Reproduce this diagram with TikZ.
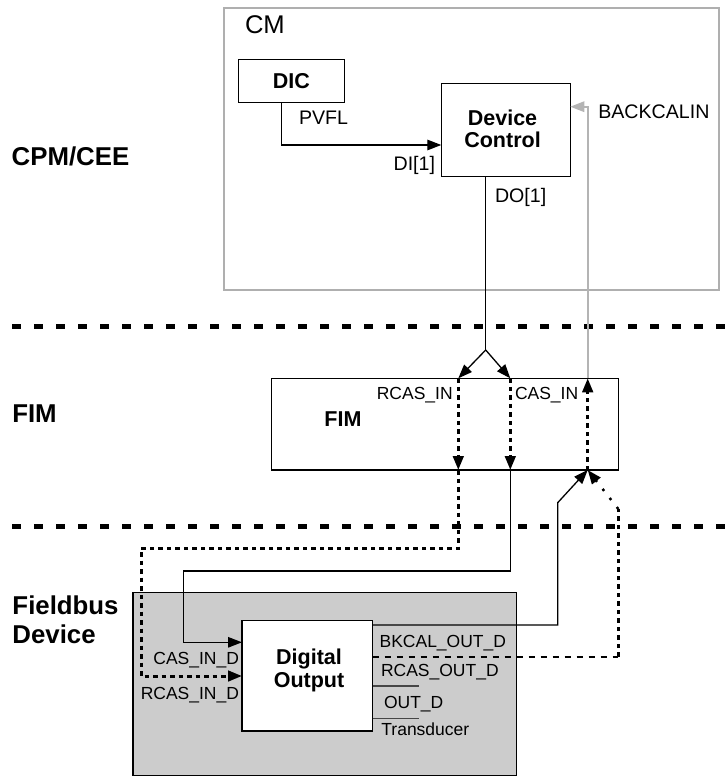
\documentclass[tikz,border=0pt]{standalone}
\usepackage{fontspec}
\setmainfont{Liberation Sans}
\usetikzlibrary{arrows.meta}
\definecolor{cmgray}{RGB}{175,175,175}
\definecolor{bkgray}{RGB}{180,180,180}
\definecolor{fdfill}{RGB}{204,204,204}
\definecolor{dline}{RGB}{70,70,70}
\tikzset{
 boxst/.style={draw=black, line width=1.3pt, inner sep=0pt, outer sep=0pt, rectangle},
 lbl/.style={inner sep=0pt, outer sep=0pt, font=\fontsize{19.6}{23}\selectfont},
 sml/.style={inner sep=0pt, outer sep=0pt, font=\fontsize{17.5}{21}\selectfont},
 bin/.style={inner sep=0pt, outer sep=0pt, font=\bfseries\fontsize{21.5}{22.5}\selectfont, align=center},
 side/.style={inner sep=0pt, outer sep=0pt, font=\bfseries\fontsize{25.8}{29.3}\selectfont, align=left},
 tip/.style={-{Triangle[length=14pt,width=10.5pt]}},
 conn/.style={line width=1.3pt, draw=black},
 dots/.style={line width=3pt, dash pattern=on 4.5pt off 4pt},
 thindash/.style={line width=1.8pt, dash pattern=on 6pt off 6pt},
 finedots/.style={line width=2.5pt, dash pattern=on 2.5pt off 9pt},
 sepline/.style={line width=4.5pt, dash pattern=on 9pt off 13pt},
}
\begin{document}
\begin{tikzpicture}[x=1pt,y=-1pt]
\useasboundingbox (0,0) rectangle (725,783);
% boxes
\node[boxst, draw=cmgray, line width=1.6pt, minimum width=495pt, minimum height=281.7pt] (cm) at (471.5,149.15) {};
\node[lbl, font=\fontsize{25.6}{30}\selectfont, anchor=base west] (cmt) at (245,33.3) {CM};
\node[boxst, bin, minimum width=106pt, minimum height=43.4pt] (dic) at (291.3,81) {DIC};
\node[boxst, minimum width=129pt, minimum height=93.4pt] (dc) at (505.8,130) {};
\node[bin, anchor=north] (dct) at (502.5,109.7) {Device\\Control};
\node[boxst, minimum width=346.6pt, minimum height=91.7pt] (fim) at (445,424.15) {};
\node[bin, anchor=base] (fimt) at (343,426) {FIM};
\node[boxst, fill=fdfill, minimum width=383.9pt, minimum height=183.2pt] (fd) at (324.85,683.9) {};
\node[boxst, fill=white, minimum width=130.5pt, minimum height=110.3pt] (do) at (307.25,675.85) {};
\node[bin, anchor=north] (dot) at (309,649.3) {Digital\\Output};
% separators
\coordinate (s1a) at (12,326.7); \coordinate (s1b) at (730,326.7);
\coordinate (s2a) at (12,526.5); \coordinate (s2b) at (730,526.5);
\draw[sepline] (s1a) -- (s1b);
\draw[sepline] (s2a) -- (s2b);
% upper connectors
\coordinate (pv) at (281.7,145);
\draw[conn,tip] (dic.south -| pv) -- (pv) -- (dc.west |- pv);
\coordinate (sp) at (485.7,350);
\draw[conn] (dc.south -| sp) -- (sp);
\coordinate (xr) at (458.3,0);
\coordinate (xc) at (510.3,0);
\coordinate (xb) at (587.7,0);
\draw[conn,tip] (sp) -- (fim.north -| xr);
\draw[conn,tip] (sp) -- (fim.north -| xc);
\draw[dots,tip] (fim.north -| xr) -- (fim.south -| xr);
\draw[dots,tip] (fim.north -| xc) -- (fim.south -| xc);
\draw[dots,tip] (fim.south -| xb) -- (fim.north -| xb);
\coordinate (bk) at (587.7,106.7);
\draw[conn, draw=bkgray, line width=1.8pt, tip] (fim.north -| xb) -- (bk) -- (dc.east |- bk);
% lower connectors
\coordinate (r1) at (458.3,548.3);
\coordinate (r2) at (141,548.3);
\coordinate (r3) at (141,676);
\draw[dots,tip] (fim.south -| xr) -- (r1) -- (r2) -- (r3) -- (do.west |- r3);
\coordinate (c1) at (510.3,571);
\coordinate (c2) at (183.3,571);
\coordinate (c3) at (183.3,642.3);
\draw[conn,tip] (fim.south -| xc) -- (c1) -- (c2) -- (c3) -- (do.west |- c3);
\coordinate (b1) at (557.7,625);
\coordinate (b2) at (557.7,502.7);
\draw[conn,tip] (do.east |- b1) -- (b1) -- (b2) -- (fim.south -| xb);
\coordinate (o1) at (618.3,656.7);
\coordinate (o2) at (618.3,509);
\draw[thindash] (do.east |- o1) -- (o1);
\draw[dots] (o1) -- (o2);
\draw[finedots,tip] (o2) -- (fim.south -| xb);
\coordinate (t1) at (419,686);
\coordinate (t2) at (419,718.3);
\draw[conn,draw=dline] (do.east |- t1) -- (t1);
\draw[conn,draw=dline] (do.east |- t2) -- (t2);
% labels
\node[lbl,anchor=base west] (pvfl) at (299,125) {PVFL};
\node[lbl,anchor=base east] (di) at (435,170.5) {DI[1]};
\node[lbl,anchor=base west] (do1) at (495,202.5) {DO[1]};
\node[lbl,anchor=base west] (bkc) at (598.3,118.3) {BACKCALIN};
\node[sml,anchor=base east] (rin) at (452.7,399.5) {RCAS\_IN};
\node[sml,anchor=base west] (cin) at (515,399.5) {CAS\_IN};
\node[sml,anchor=base east] (cind) at (239,664.2) {CAS\_IN\_D};
\node[sml,anchor=base east] (rind) at (239,699.8) {RCAS\_IN\_D};
\node[sml,anchor=base west] (bko) at (379.6,647.5) {BKCAL\_OUT\_D};
\node[sml,anchor=base west] (rco) at (381,676.5) {RCAS\_OUT\_D};
\node[sml,anchor=base west] (outd) at (384,708.2) {OUT\_D};
\node[sml,anchor=base west] (trd) at (381.4,735.8) {Transducer};
\node[side,anchor=base west] (cpm) at (11.7,165.7) {CPM/CEE};
\node[side,anchor=base west] (fims) at (12.3,422.7) {FIM};
\node[side,anchor=north west] (fbd) at (12.5,595.3) {Fieldbus\\Device};
\end{tikzpicture}
\end{document}
